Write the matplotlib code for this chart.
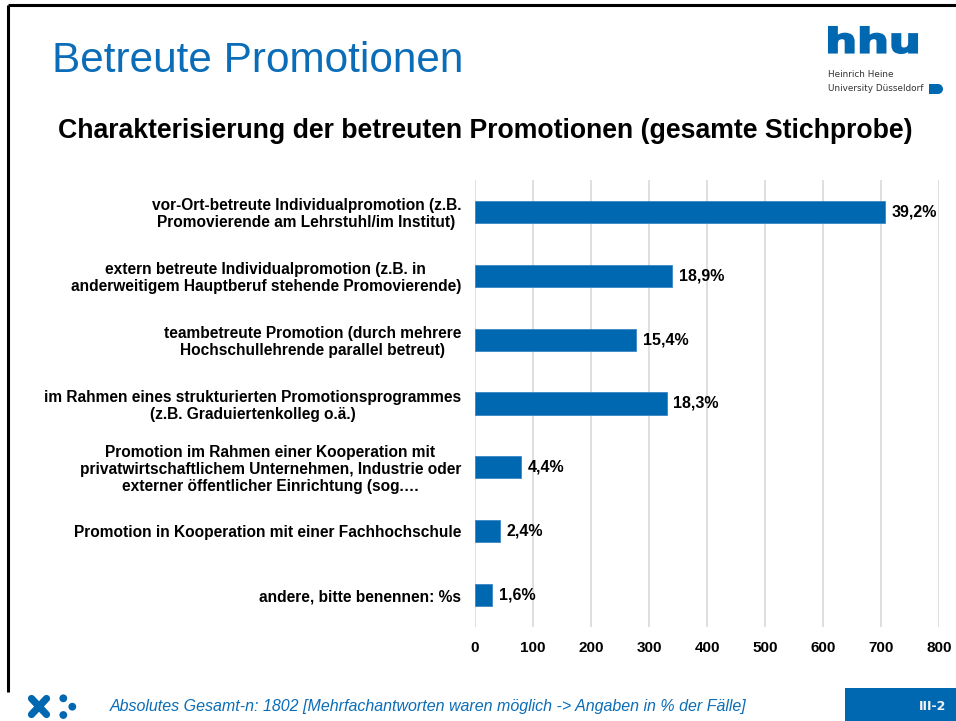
import matplotlib
matplotlib.use("Agg")
import matplotlib.pyplot as plt
from matplotlib.patches import Circle, PathPatch, Rectangle
from matplotlib.textpath import TextPath
from matplotlib.font_manager import FontProperties
from matplotlib.transforms import Affine2D

# ---------------- data ----------------
categories = [
    "vor-Ort-betreute Individualpromotion (z.B.\nPromovierende am Lehrstuhl/im Institut)",
    "extern betreute Individualpromotion (z.B. in\nanderweitigem Hauptberuf stehende Promovierende)",
    "teambetreute Promotion (durch mehrere\nHochschullehrende parallel betreut)",
    "im Rahmen eines strukturierten Promotionsprogrammes\n(z.B. Graduiertenkolleg o.ä.)",
    "Promotion im Rahmen einer Kooperation mit\nprivatwirtschaftlichem Unternehmen, Industrie oder\nexterner öffentlicher Einrichtung (sog.…",
    "Promotion in Kooperation mit einer Fachhochschule",
    "andere, bitte benennen: %s",
]
counts = [706, 340, 277, 330, 79, 43, 29]
pct_labels = ["39,2%", "18,9%", "15,4%", "18,3%", "4,4%", "2,4%", "1,6%"]
x_ticks = [0, 100, 200, 300, 400, 500, 600, 700, 800]

slide_title = "Betreute Promotionen"
chart_title = "Charakterisierung der betreuten Promotionen (gesamte Stichprobe)"
footer_text = "Absolutes Gesamt-n: 1802 [Mehrfachantworten waren möglich -> Angaben in % der Fälle]"
page_label = "III-2"

BLUE = "#0067B1"
TITLE_BLUE = "#0B6DB7"
FONT = "Liberation Sans"

W, H = 956, 721
fig = plt.figure(figsize=(W / 100, H / 100), dpi=100)
fig.patch.set_facecolor("white")

# ---------------- decorations layer (pixel coords) ----------------
deco = fig.add_axes([0, 0, 1, 1], zorder=0)
deco.set_xlim(0, W)
deco.set_ylim(H, 0)
deco.axis("off")

# slide border (top + left)
deco.plot([8, W], [5, 5], color="black", lw=2.2, solid_capstyle="butt")
deco.plot([8, 8], [5, 692], color="black", lw=2.2, solid_capstyle="butt")

deco.text(52, 72, slide_title, fontsize=30.4, color=TITLE_BLUE, family=FONT,
          ha="left", va="baseline")
deco.text(58, 138, chart_title, fontsize=19.2, fontweight="bold", color="black",
          family=FONT, ha="left", va="baseline")

# hhu logo
tp = TextPath((0, 0), "hhu", prop=FontProperties(family="DejaVu Sans", weight="bold"), size=10)
bb = tp.get_extents()
x0, x1, y0, y1 = 829, 917, 27, 53
sx = (x1 - x0) / bb.width
sy = (y1 - y0) / bb.height
tr = Affine2D().translate(-bb.x0, -bb.y0).scale(sx, -sy).translate(x0, y1)
deco.add_patch(PathPatch(tr.transform_path(tp), facecolor=BLUE, edgecolor=BLUE,
                         linewidth=1.5, joinstyle="miter"))
deco.text(828, 77, "Heinrich Heine", fontsize=6.4, color="#333333", family="DejaVu Sans",
          ha="left", va="baseline")
deco.text(828, 91, "University Düsseldorf", fontsize=6.4, color="#333333",
          family="DejaVu Sans", ha="left", va="baseline")
deco.add_patch(Rectangle((929, 84), 9, 10, facecolor=BLUE, edgecolor="none"))
deco.add_patch(Circle((938, 89), 5, facecolor=BLUE, edgecolor="none"))

# footer icon
deco.plot([31.5, 46.5], [698.5, 714.5], color=BLUE, lw=5.2, solid_capstyle="round")
deco.plot([31.5, 46.5], [714.5, 698.5], color=BLUE, lw=5.2, solid_capstyle="round")
for cx, cy in [(63.3, 698.3), (72.3, 706.7), (63.3, 715)]:
    deco.add_patch(Circle((cx, cy), 3.9, facecolor=BLUE, edgecolor="none"))

deco.text(110, 711.5, footer_text, fontsize=11.5, style="italic", color=TITLE_BLUE,
          family=FONT, ha="left", va="baseline")
deco.add_patch(Rectangle((845, 688), W - 845, H - 688, facecolor=BLUE, edgecolor="none"))
deco.text(933, 706, page_label, fontsize=9, fontweight="bold", color="#F2F2F2",
          family="DejaVu Sans", ha="center", va="center")

# ---------------- chart ----------------
ax_l, ax_r, ax_t, ax_b = 475, 939.3, 180, 627
ax = fig.add_axes([ax_l / W, 1 - ax_b / H, (ax_r - ax_l) / W, (ax_b - ax_t) / H], zorder=1)
ax.patch.set_alpha(0)

y = list(range(len(categories)))
ax.barh(y, counts, height=0.345, color=BLUE, edgecolor="#3A86C6", linewidth=0.6, zorder=3)
for yi, c, lab in zip(y, counts, pct_labels):
    ax.annotate(lab, (c, yi), xytext=(5, 0), textcoords="offset points",
                ha="left", va="center", fontsize=11.5, fontweight="bold",
                family=FONT, color="black")

ax.set_xlim(0, 800)
ax.set_ylim(len(categories) - 0.5, -0.5)
ax.set_xticks(x_ticks)
ax.set_xticklabels([str(t) for t in x_ticks], fontsize=11, fontweight="bold", family=FONT)
ax.set_yticks(y)
ax.set_yticklabels(categories, fontsize=11.2, fontweight="bold", family=FONT,
                   multialignment="center", linespacing=1.17)
ax.tick_params(axis="both", length=0)
ax.tick_params(axis="y", pad=10)
ax.tick_params(axis="x", pad=10)
ax.grid(axis="x", color="#D9D9D9", linewidth=1.2, zorder=0)
ax.set_axisbelow(True)
for s in ax.spines.values():
    s.set_visible(False)

fig.savefig("out.png", dpi=100, facecolor="white")
